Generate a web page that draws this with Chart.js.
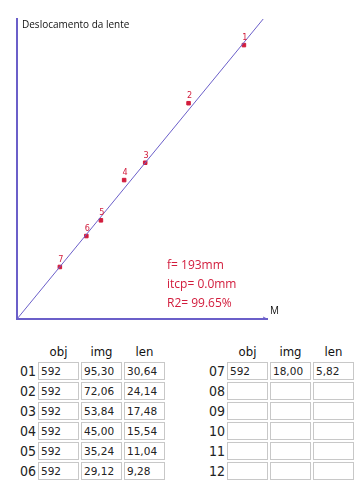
<!DOCTYPE html>
<html lang="pt-BR">
  <head>
    <meta charset="UTF-8" />
    <script src="https://cdn.jsdelivr.net/npm/chart.js"></script>
    <title>Lente</title>
    <style>
      body { margin: 0; background: #fff; width: 359px; height: 493px; overflow: hidden; position: relative; }
      .grafico { position: absolute; left: 0; top: 0; width: 359px; height: 330px; }
      .tabela { position: absolute; top: 340px; border-collapse: separate; border-spacing: 2px; }
      .tabela th { font: 13px "DejaVu Sans Condensed", "Liberation Sans Narrow", sans-serif; font-weight: normal; color: #111; height: 18px; padding: 0; }
      .tabela td.num { font: 14px "DejaVu Sans Condensed", "Liberation Sans Narrow", sans-serif; color: #222; text-align: right; padding: 0; width: 18px; }
      .tabela td.cel { border: 1px solid #c8c8c8; width: 37px; height: 16px; padding: 0 0 0 2px; font: 10.5px "DejaVu Sans", sans-serif; color: #222; }
    </style>
  </head>
  <body>
    <div class="grafico"><canvas id="myChartCanvas1"></canvas></div>
    <table class="tabela" id="tab1" style="left: 16px"></table>
    <table class="tabela" id="tab2" style="left: 205px"></table>
  </body>
</html>
<script>
  // valores da tabela
  const linhas = ["01", "02", "03", "04", "05", "06", "07", "08", "09", "10", "11", "12"];
  const obj = ["592", "592", "592", "592", "592", "592", "592", "", "", "", "", ""];
  const img = ["95,30", "72,06", "53,84", "45,00", "35,24", "29,12", "18,00", "", "", "", "", ""];
  const len = ["30,64", "24,14", "17,48", "15,54", "11,04", "9,28", "5,82", "", "", "", "", ""];

  // pontos do grafico (x = img, y = len)
  const pontosX = [95.3, 72.06, 53.84, 45.0, 35.24, 29.12, 18.0];
  const pontosY = [30.64, 24.14, 17.48, 15.54, 11.04, 9.28, 5.82];
  const numeros = ["1", "2", "3", "4", "5", "6", "7"];

  // reta ajustada
  const retaX = [0, 103.4];
  const retaY = [0, 33.56];

  const textos = ["f= 193mm", "itcp= 0.0mm", "R2= 99.65%"];

  function montarTabela(id, ini, fim) {
    let html = "<tr><th></th><th>obj</th><th>img</th><th>len</th></tr>";
    for (let i = ini; i < fim; i++) {
      html += `<tr><td class="num">${linhas[i]}</td><td class="cel">${obj[i]}</td><td class="cel">${img[i]}</td><td class="cel">${len[i]}</td></tr>`;
    }
    document.getElementById(id).innerHTML = html;
  }
  montarTabela("tab1", 0, 6);
  montarTabela("tab2", 6, 12);

  const roxo = "#6b5fc9";
  const vermelho = "#d21c3c";

  const rotulos = {
    id: "rotulos",
    afterDatasetsDraw(chart) {
      const c = chart.ctx;
      const area = chart.chartArea;
      const meta = chart.getDatasetMeta(1);
      c.save();
      c.fillStyle = vermelho;
      c.font = "9px 'DejaVu Sans Condensed', sans-serif";
      c.textAlign = "center";
      c.textBaseline = "bottom";
      meta.data.forEach((p, i) => c.fillText(numeros[i], p.x + 1, p.y - 3));

      c.font = "12px 'Open Sans', sans-serif";
      c.textAlign = "left";
      c.textBaseline = "middle";
      textos.forEach((t, i) => c.fillText(t, 167, 266 + i * 19));

      c.fillStyle = "#111";
      c.font = "10px 'Open Sans', sans-serif";
      c.fillText("Deslocamento da lente", area.left + 5, 25);
      c.fillText("M", area.right + 3, 311);

      c.strokeStyle = roxo;
      c.lineWidth = 1;
      c.beginPath();
      c.moveTo(area.right - 4, area.bottom - 2);
      c.lineTo(area.right, area.bottom);
      c.stroke();
      c.restore();
    },
  };

  new Chart(document.getElementById("myChartCanvas1"), {
    type: "scatter",
    data: {
      datasets: [
        {
          type: "line",
          data: retaX.map((x, i) => ({ x: x, y: retaY[i] })),
          borderColor: roxo,
          borderWidth: 1,
          pointRadius: 0,
          fill: false,
        },
        {
          data: pontosX.map((x, i) => ({ x: x, y: pontosY[i] })),
          backgroundColor: vermelho,
          borderColor: vermelho,
          pointStyle: "rect",
          pointRadius: 2.5,
        },
      ],
    },
    options: {
      responsive: true,
      maintainAspectRatio: false,
      animation: false,
      layout: { padding: { left: 17, top: 19, right: 92, bottom: 11 } },
      plugins: { legend: { display: false }, tooltip: { enabled: false } },
      scales: {
        x: {
          type: "linear",
          min: 0,
          max: 105,
          ticks: { display: false },
          grid: { display: false, drawTicks: false },
          border: { display: true, color: roxo, width: 2 },
        },
        y: {
          type: "linear",
          min: 0,
          max: 33.56,
          ticks: { display: false },
          grid: { display: false, drawTicks: false },
          border: { display: true, color: roxo, width: 2 },
        },
      },
    },
    plugins: [rotulos],
  });
</script>
